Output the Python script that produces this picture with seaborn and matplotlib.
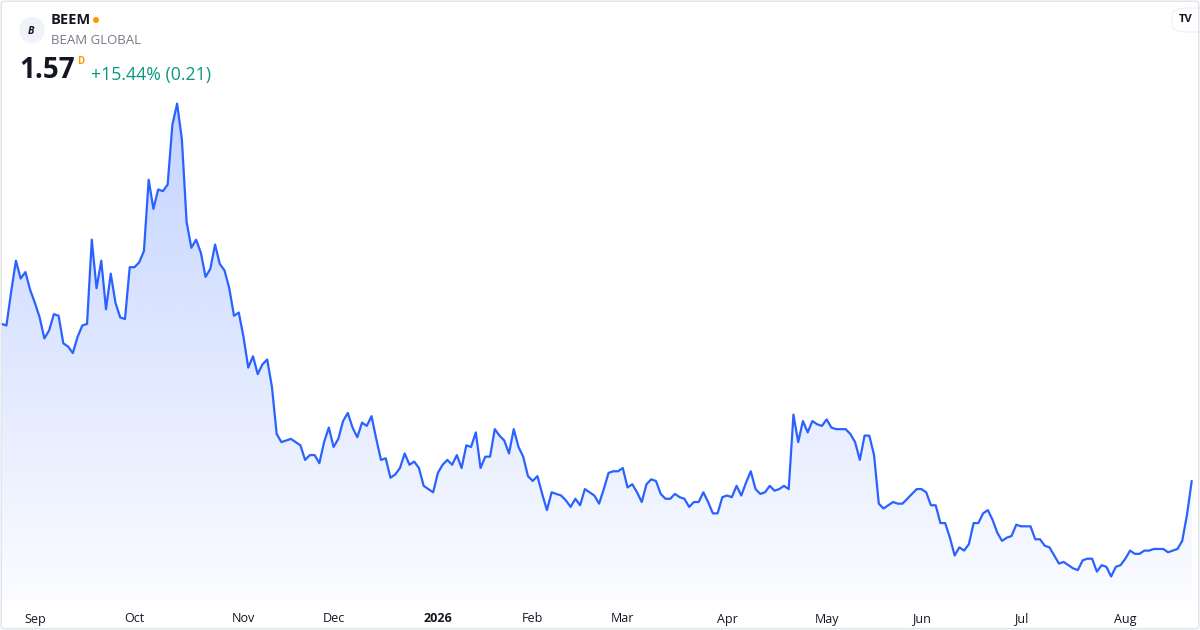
import numpy as np
import pandas as pd
import matplotlib
matplotlib.use("Agg")
import matplotlib.pyplot as plt
import seaborn as sns
from matplotlib.patches import Ellipse, FancyBboxPatch

sns.set_theme(style="white")
plt.rcParams['font.family'] = ['Open Sans', 'DejaVu Sans']

# daily closes, BEEM, 2025-08-21 .. 2026-08-21
prices = [
    2.54, 2.53, 2.74, 2.93, 2.82, 2.86, 2.75, 2.67, 2.58, 2.45,
    2.50, 2.60, 2.59, 2.42, 2.40, 2.36, 2.46, 2.53, 2.54, 3.06,
    2.76, 2.93, 2.63, 2.85, 2.67, 2.58, 2.57, 2.89, 2.89, 2.92,
    2.99, 3.43, 3.25, 3.37, 3.36, 3.40, 3.77, 3.90, 3.68, 3.17,
    3.01, 3.06, 2.98, 2.83, 2.88, 3.03, 2.91, 2.87, 2.76, 2.59,
    2.61, 2.46, 2.27, 2.34, 2.23, 2.29, 2.32, 2.15, 1.86, 1.81,
    1.82, 1.83, 1.81, 1.79, 1.70, 1.73, 1.73, 1.68, 1.81, 1.90,
    1.78, 1.83, 1.94, 1.99, 1.90, 1.84, 1.93, 1.91, 1.97, 1.83,
    1.70, 1.71, 1.59, 1.61, 1.65, 1.74, 1.67, 1.69, 1.65, 1.54,
    1.52, 1.50, 1.62, 1.67, 1.70, 1.67, 1.73, 1.65, 1.79, 1.78,
    1.87, 1.65, 1.72, 1.72, 1.89, 1.85, 1.82, 1.74, 1.89, 1.78,
    1.72, 1.60, 1.57, 1.60, 1.49, 1.39, 1.50, 1.49, 1.48, 1.45,
    1.41, 1.46, 1.42, 1.52, 1.50, 1.48, 1.43, 1.52, 1.62, 1.63,
    1.63, 1.65, 1.53, 1.55, 1.50, 1.44, 1.55, 1.58, 1.57, 1.49,
    1.46, 1.46, 1.49, 1.47, 1.46, 1.41, 1.44, 1.44, 1.50, 1.44,
    1.37, 1.37, 1.47, 1.48, 1.47, 1.54, 1.48, 1.56, 1.63, 1.52,
    1.49, 1.50, 1.54, 1.51, 1.52, 1.54, 1.52, 1.98, 1.81, 1.94,
    1.87, 1.94, 1.92, 1.91, 1.95, 1.90, 1.89, 1.89, 1.89, 1.86,
    1.81, 1.70, 1.85, 1.85, 1.73, 1.43, 1.40, 1.42, 1.44, 1.43,
    1.43, 1.46, 1.49, 1.52, 1.52, 1.50, 1.42, 1.42, 1.31, 1.31,
    1.22, 1.11, 1.16, 1.14, 1.18, 1.31, 1.31, 1.37, 1.39, 1.33,
    1.25, 1.20, 1.22, 1.23, 1.30, 1.29, 1.29, 1.29, 1.21, 1.21,
    1.17, 1.16, 1.11, 1.06, 1.07, 1.05, 1.03, 1.02, 1.08, 1.09,
    1.09, 1.01, 1.05, 1.04, 0.98, 1.04, 1.05, 1.09, 1.14, 1.12,
    1.12, 1.14, 1.14, 1.15, 1.15, 1.15, 1.13, 1.14, 1.15, 1.20,
    1.36, 1.57,
]
holidays = ['2025-09-01', '2025-11-27', '2025-12-25', '2026-01-01', '2026-01-19',
            '2026-02-16', '2026-04-03', '2026-05-25', '2026-06-19', '2026-07-03']
start_date, end_date = '2025-08-21', '2026-08-21'

ticker = 'BEEM'
company = 'BEAM GLOBAL'
last_price = '1.57'
change_text = '+15.44% (0.21)'

dates = pd.bdate_range(start_date, end_date, freq='C', holidays=holidays)
df = pd.DataFrame({'date': dates[:len(prices)], 'close': prices})
df['idx'] = np.arange(len(df))

# month ticks at first trading day of each month
first = df.groupby(df['date'].dt.to_period('M'))['idx'].min().iloc[1:]
tick_pos = first.values
tick_lab = [p.strftime('%Y') if p.month == 1 else p.strftime('%b') for p in first.index]

BLUE = '#2962ff'
W, H = 1200, 630

fig = plt.figure(figsize=(12, 6.3), dpi=100)
fig.patch.set_facecolor('white')
ax = fig.add_axes([0, 30 / H, 1, 600 / H])
ax.set_facecolor('none')

x0, x1 = -0.36, len(df) - 1 + 1.75
y0, y1 = 0.835, 4.54
ax.set_xlim(x0, x1)
ax.set_ylim(y0, y1)

# gradient area under the line
poly = ax.fill_between(df['idx'], df['close'], y0, color='none', lw=0)
top = df['close'].max()
grad = np.linspace(0.02, 0.28, 256).reshape(-1, 1)
rgba = np.zeros((256, 1, 4))
rgba[..., 0], rgba[..., 1], rgba[..., 2] = 41 / 255, 98 / 255, 255 / 255
rgba[..., 3] = grad
im = ax.imshow(rgba, extent=[x0, x1, y0, top], origin='lower', aspect='auto', zorder=1)
im.set_clip_path(poly.get_paths()[0], transform=ax.transData)
ax.set_xlim(x0, x1)
ax.set_ylim(y0, y1)

sns.lineplot(data=df, x='idx', y='close', ax=ax, color=BLUE, lw=1.6, zorder=3)

ax.set_xticks(tick_pos)
ax.set_xticklabels(tick_lab, fontsize=9, color='#131722')
for lab in ax.get_xticklabels():
    if lab.get_text().isdigit():
        lab.set_fontweight('bold')
ax.tick_params(axis='x', length=0, pad=9)
ax.set_yticks([])
ax.set_xlabel('')
ax.set_ylabel('')
sns.despine(ax=ax, left=True, bottom=True)


# header
def px(x, y):
    return x / W, 1 - y / H


def dot(x, y, r, color):
    fig.patches.append(Ellipse(px(x, y), 2 * r / W, 2 * r / H, transform=fig.transFigure,
                               facecolor=color, edgecolor='none'))


dot(32, 30, 13, '#f0f3fa')
fig.text(*px(31, 31), 'B', fontsize=7.5, fontweight='bold', style='italic',
         color='#131722', ha='center', va='center')
fig.text(*px(51, 20), ticker, fontsize=10.5, fontweight='bold', color='#131722', va='center')
dot(96, 20, 3, '#ff9800')
fig.text(*px(51, 41), company, fontsize=9.5, color='#787b86', va='center')
fig.text(*px(19, 71), last_price, fontsize=20, fontweight='bold', color='#131722', va='center')
fig.text(*px(77, 61), 'D', fontsize=7, fontweight='bold', color='#ff9800', va='center')
fig.text(*px(91, 75), change_text, fontsize=12.8, color='#089981', va='center')

# tv badge top right
badge = FancyBboxPatch(px(1172, 32), 40 / W, 24 / H, boxstyle='round,pad=0,rounding_size=0.012',
                       transform=fig.transFigure, facecolor='white', edgecolor='#eceef2', lw=0.8)
fig.patches.append(badge)
fig.text(*px(1186, 20), 'TV', fontsize=8, fontweight='bold', color='#131722',
         ha='center', va='center')

# card border
fig.patches.append(FancyBboxPatch((0.001, 0.002), 0.998, 0.996,
                                  boxstyle='round,pad=0,rounding_size=0.004',
                                  transform=fig.transFigure, facecolor='none',
                                  edgecolor='#e0e3eb', lw=1))

fig.savefig('out.png', dpi=100)
